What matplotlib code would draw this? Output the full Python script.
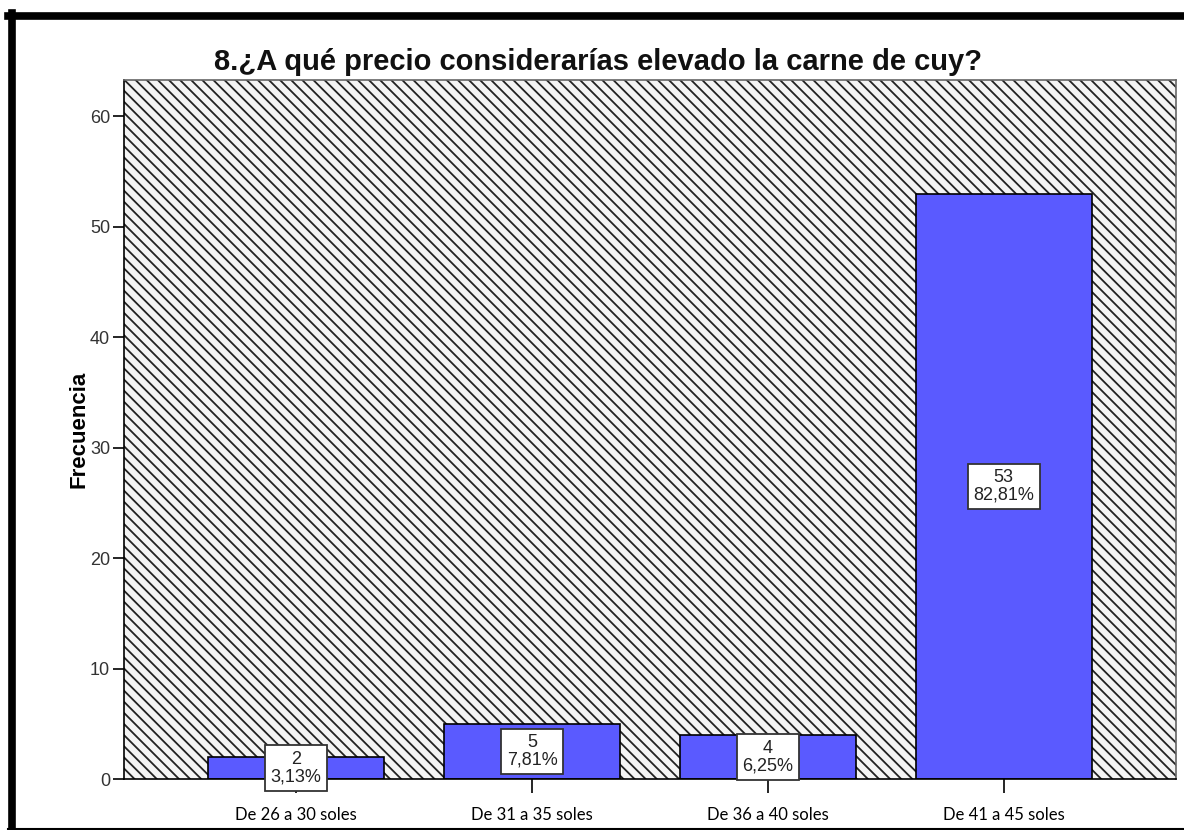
import numpy as np
import matplotlib.pyplot as plt
from matplotlib.patches import Rectangle
from matplotlib.lines import Line2D

# Datos
categorias = ["De 26 a 30 soles", "De 31 a 35 soles", "De 36 a 40 soles", "De 41 a 45 soles"]
frecuencias = [2, 5, 4, 53]
porcentajes = ["3,13%", "7,81%", "6,25%", "82,81%"]

plt.rcParams['font.family'] = ['Liberation Sans', 'DejaVu Sans']
plt.rcParams['hatch.linewidth'] = 1.3

fig = plt.figure(figsize=(11.84, 8.3), dpi=100)
ax = fig.add_axes([124/1184, 1 - 779/830, (1176-124)/1184, (779-80)/830])

# fondo rayado
fondo = Rectangle((0, 0), 1, 1, transform=ax.transAxes, facecolor='#f4f4f4',
                  edgecolor='#222222', hatch='\\\\\\', linewidth=0, zorder=0)
ax.add_patch(fondo)

x = np.arange(len(categorias))
ax.bar(x, frecuencias, width=0.746, color='#5a5aff', edgecolor='black',
       linewidth=1.2, zorder=2)

for xi, f, p in zip(x, frecuencias, porcentajes):
    ax.text(xi, f / 2, f"{f}\n{p}", ha='center', va='center', fontsize=13,
            linespacing=1.05, zorder=5, clip_on=False, color='#222222',
            bbox=dict(boxstyle='square,pad=0.3', facecolor='white', edgecolor='#333333', linewidth=1.3))

ax.set_xlim(-0.73, 3.73)
ax.set_ylim(0, 63.3)
ax.set_yticks([0, 10, 20, 30, 40, 50, 60])
ax.set_xticks(x)
ax.set_xticklabels(categorias, fontfamily=['Lato', 'DejaVu Sans'], fontsize=12)
ax.tick_params(axis='y', labelsize=13, length=8, width=1.2, pad=2, labelcolor='#333333')
ax.tick_params(axis='x', length=10, width=1.2, pad=10, colors='black')
for s in ax.spines.values():
    s.set_linewidth(1.2)
ax.spines['top'].set_color('#666666')
ax.spines['right'].set_color('#666666')

ax.set_ylabel("Frecuencia", fontsize=16, fontweight='bold')
ax.yaxis.set_label_coords((90 - 124) / 1052, 0.5)

fig.text(598/1184, 1 - 62/830, "8.¿A qué precio considerarías elevado la carne de cuy?",
         fontsize=21, fontweight='bold', ha='center', va='center', color='#111111')

# marco negro
fig.add_artist(Line2D([11.5/1184, 11.5/1184], [0, 1 - 13/830], color='black', linewidth=5.5))
fig.add_artist(Line2D([8/1184, 1], [1 - 16.5/830, 1 - 16.5/830], color='black', linewidth=5.5))
fig.add_artist(Line2D([8/1184, 1], [1.5/830, 1.5/830], color='black', linewidth=1.5))

fig.savefig("out.png", dpi=100)
